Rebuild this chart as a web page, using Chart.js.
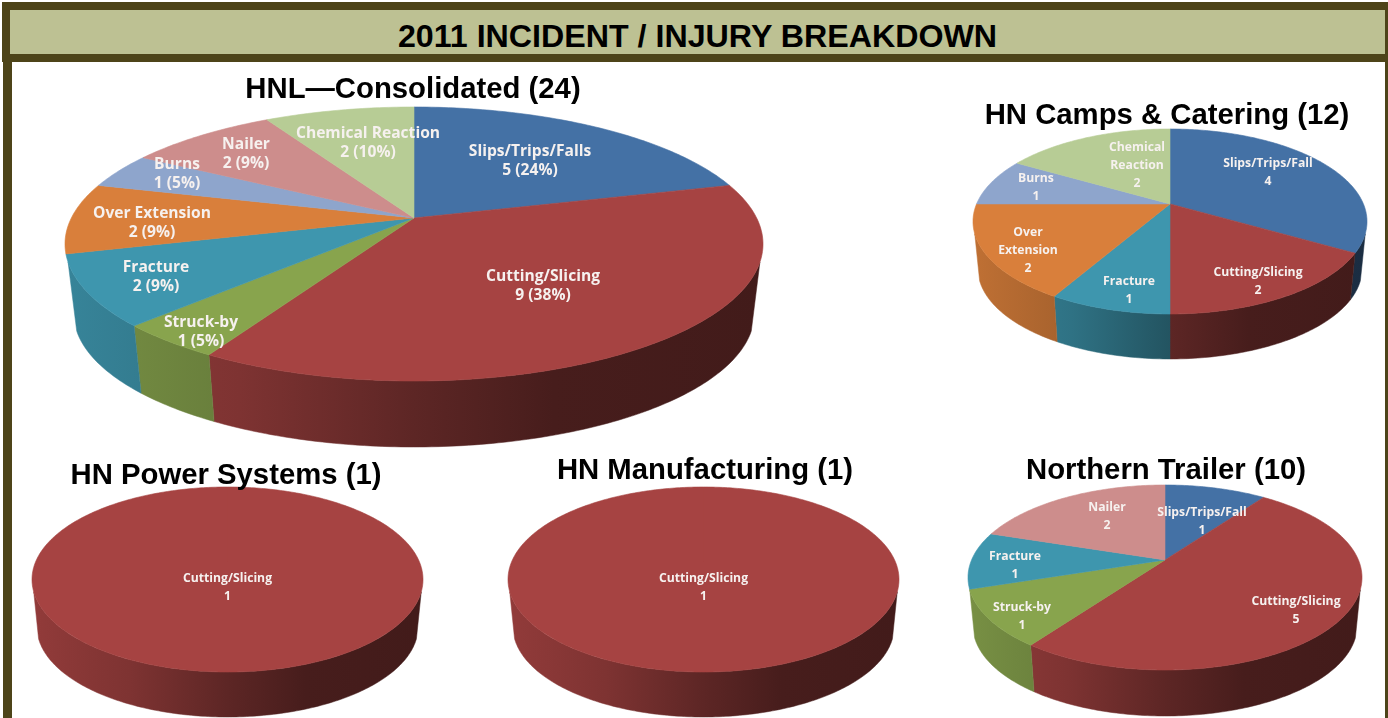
<!DOCTYPE html>
<html>
<head>
<meta charset="utf-8">
<title>2011 Incident / Injury Breakdown</title>
<script src="https://cdn.jsdelivr.net/npm/chart.js@4"></script>
<style>
  html, body { margin: 0; padding: 0; background: #fff; width: 1388px; height: 718px; overflow: hidden; }
  .frame { position: absolute; background: #4d4419; }
  #banner {
    position: absolute; left: 10px; top: 10px; width: 1375px; height: 44px; background: #bdc193;
    font: bold 32.2px "Liberation Sans", Arial, sans-serif; color: #000; text-align: center; line-height: 52px;
  }
  .pie-title {
    position: absolute; z-index: 5; transform: translate(-50%, -50%); white-space: nowrap;
    font: bold 29.3px "Liberation Sans", Arial, sans-serif; color: #000;
  }
  canvas { position: absolute; }
</style>
</head>
<body>
<div class="frame" style="left:2px;top:2px;width:1386px;height:60px"></div>
<div class="frame" style="left:3px;top:62px;width:9px;height:656px"></div>
<div class="frame" style="left:1385px;top:62px;width:3px;height:656px"></div>
<div id="banner">2011 INCIDENT / INJURY BREAKDOWN</div>

<script>
/* Data: slices are counts, labels are as printed */
const hnlCategories = ['Slips/Trips/Falls', 'Cutting/Slicing', 'Struck-by', 'Fracture', 'Over Extension', 'Burns', 'Nailer', 'Chemical Reaction'];
const hnlValues = [5, 9, 1, 2, 2, 1, 2, 2];
const hnlCaptions = ['5 (24%)', '9 (38%)', '1 (5%)', '2 (9%)', '2 (9%)', '1 (5%)', '2 (9%)', '2 (10%)'];

const campsCategories = ['Slips/Trips/Fall', 'Cutting/Slicing', 'Fracture', 'Over Extension', 'Burns', 'Chemical Reaction'];
const campsValues = [4, 2, 1, 2, 1, 2];

const powerCategories = ['Cutting/Slicing'];
const powerValues = [1];

const manufacturingCategories = ['Cutting/Slicing'];
const manufacturingValues = [1];

const trailerCategories = ['Slips/Trips/Fall', 'Cutting/Slicing', 'Struck-by', 'Fracture', 'Nailer'];
const trailerValues = [1, 5, 1, 1, 2];

const categoryColors = {
  'Slips/Trips/Falls': '#4471a5', 'Slips/Trips/Fall': '#4471a5',
  'Cutting/Slicing': '#a64342', 'Struck-by': '#88a44d', 'Fracture': '#3e96ae',
  'Over Extension': '#d97f3b', 'Burns': '#8ea5cc', 'Nailer': '#cd8d8c', 'Chemical Reaction': '#b7cc95'
};

/* Excel style tilt: the centre of the pie sits above the centre of the ellipse */
const TILT = 0.19;
const BOTTOM_SCALE = 0.975;
const WALL_START = 0.32;
const PAD = 3;

function shade(hex, f) {
  const n = parseInt(hex.slice(1), 16);
  const c = [n >> 16, (n >> 8) & 255, n & 255].map(v => Math.round(v * f));
  return `rgb(${c[0]},${c[1]},${c[2]})`;
}

/* Helper: pie geometry from the chart area and the side depth */
function pieGeometry(chart, depth) {
  const area = chart.chartArea;
  const faceHeight = area.height - depth;
  const A = area.width / 2 * Math.sqrt(1 - TILT * TILT);
  const B = faceHeight * (1 - TILT * TILT) / 2;
  const cx = area.left + area.width / 2;
  const cy = area.top + B / (1 + TILT);
  const drop = depth + (1 - BOTTOM_SCALE) * B / (1 - TILT);
  const project = (angle, scale, dy) => {
    const x = Math.cos(angle), y = Math.sin(angle), w = 1 - TILT * y;
    return [cx + scale * A * x / w, cy + scale * B * y / w + dy];
  };
  return { area, cx, cy, drop, project };
}

function tracePoints(ctx, points, first) {
  points.forEach((p, i) => (i === 0 && first ? ctx.moveTo(p[0], p[1]) : ctx.lineTo(p[0], p[1])));
}

function arcPoints(geo, from, to, scale, dy) {
  const steps = Math.max(2, Math.ceil(Math.abs(to - from) / 0.015));
  const pts = [];
  for (let i = 0; i <= steps; i++) pts.push(geo.project(from + (to - from) * i / steps, scale, dy));
  return pts;
}

/* Plugin: replaces the flat arcs, angles still come from the arc elements */
const tiltedPie = {
  id: 'tiltedPie',
  beforeDatasetsDraw(chart, args, opts) {
    const ctx = chart.ctx;
    const geo = pieGeometry(chart, opts.depth);
    const arcs = chart.getDatasetMeta(0).data;
    const frontFrom = WALL_START, frontTo = Math.PI - WALL_START;

    // side wall
    arcs.forEach(arc => {
      const from = Math.max(arc.startAngle, frontFrom);
      const to = Math.min(arc.endAngle, frontTo);
      if (to <= from) return;
      const base = arc.options.backgroundColor;
      const grad = ctx.createLinearGradient(geo.area.left, 0, geo.area.right, 0);
      grad.addColorStop(0, shade(base, 0.88));
      grad.addColorStop(0.25, shade(base, 0.76));
      grad.addColorStop(0.5, shade(base, 0.56));
      grad.addColorStop(0.7, shade(base, 0.43));
      grad.addColorStop(1, shade(base, 0.4));
      ctx.beginPath();
      tracePoints(ctx, arcPoints(geo, from, to, 1, 0), true);
      tracePoints(ctx, arcPoints(geo, to, from, BOTTOM_SCALE, geo.drop), false);
      ctx.closePath();
      ctx.fillStyle = grad;
      ctx.strokeStyle = grad;
      ctx.lineWidth = 0.5;
      ctx.fill();
      ctx.stroke();
    });

    // top face
    arcs.forEach(arc => {
      ctx.beginPath();
      ctx.moveTo(geo.cx, geo.cy);
      tracePoints(ctx, arcPoints(geo, arc.startAngle, arc.endAngle, 1, 0), false);
      ctx.closePath();
      ctx.fillStyle = arc.options.backgroundColor;
      ctx.strokeStyle = arc.options.backgroundColor;
      ctx.lineWidth = 0.6;
      ctx.fill();
      ctx.stroke();
    });

    // slice labels, spots are offsets from the pie centre
    ctx.font = `bold ${opts.fontSize}px "Open Sans", Lato, sans-serif`;
    ctx.fillStyle = '#f6f1ef';
    ctx.textAlign = 'center';
    ctx.textBaseline = 'middle';
    opts.labels.forEach((lines, i) => {
      const spot = opts.spots[i];
      const top = geo.cy + spot[1] + 1 - (lines.length - 1) * opts.lineHeight / 2;
      lines.forEach((line, j) => ctx.fillText(line, geo.cx + spot[0], top + j * opts.lineHeight));
    });
    return false;
  }
};

/* Helper: create one tilted pie, box is the outline of the drawn pie */
function createTiltedPie(box, categories, values, labels, spots, depth, fontSize, lineHeight) {
  const canvas = document.createElement('canvas');
  canvas.style.left = (box.left - PAD) + 'px';
  canvas.style.top = (box.top - PAD) + 'px';
  canvas.width = box.width + PAD * 2;
  canvas.height = box.height + PAD * 2;
  canvas.style.width = canvas.width + 'px';
  canvas.style.height = canvas.height + 'px';
  document.body.appendChild(canvas);
  return new Chart(canvas, {
    type: 'pie',
    data: {
      labels: categories,
      datasets: [{
        data: values,
        backgroundColor: categories.map(c => categoryColors[c]),
        borderWidth: 0
      }]
    },
    options: {
      responsive: false,
      animation: false,
      layout: { padding: PAD },
      plugins: {
        legend: { display: false },
        tooltip: { enabled: false },
        tiltedPie: { depth, fontSize, lineHeight, labels, spots }
      }
    },
    plugins: [tiltedPie]
  });
}

function addTitle(text, x, y) {
  const el = document.createElement('div');
  el.className = 'pie-title';
  el.textContent = text;
  el.style.left = x + 'px';
  el.style.top = y + 'px';
  document.body.appendChild(el);
}

createTiltedPie({ left: 65, top: 107, width: 698, height: 340 }, hnlCategories, hnlValues,
  hnlCategories.map((c, i) => [c, hnlCaptions[i]]),
  [[116, -58], [129, 67], [-213, 113], [-258, 58], [-262, 4], [-237, -45], [-168, -65], [-46, -76]],
  66, 15.6, 19);

createTiltedPie({ left: 973, top: 129, width: 394, height: 230 }, campsCategories, campsValues,
  [['Slips/Trips/Fall', '4'], ['Cutting/Slicing', '2'], ['Fracture', '1'], ['Over', 'Extension', '2'], ['Burns', '1'], ['Chemical', 'Reaction', '2']],
  [[98, -32], [88, 77], [-41, 86], [-142, 46], [-134, -17], [-33, -39]],
  45, 12.2, 18);

createTiltedPie({ left: 32, top: 487, width: 391, height: 230 }, powerCategories, powerValues,
  [['Cutting/Slicing', '1']], [[0, 25]], 45, 12.2, 18);

createTiltedPie({ left: 508, top: 487, width: 391, height: 230 }, manufacturingCategories, manufacturingValues,
  [['Cutting/Slicing', '1']], [[0, 25]], 45, 12.2, 18);

createTiltedPie({ left: 968, top: 485, width: 394, height: 231 }, trailerCategories, trailerValues,
  [['Slips/Trips/Fall', '1'], ['Cutting/Slicing', '5'], ['Struck-by', '1'], ['Fracture', '1'], ['Nailer', '2']],
  [[37, -39], [131, 50], [-143, 56], [-150, 5], [-58, -44]],
  46, 12.2, 18);

addTitle('HNL\u2014Consolidated (24)', 413, 88);
addTitle('HN Camps & Catering (12)', 1167, 114);
addTitle('HN Power Systems (1)', 226, 474);
addTitle('HN Manufacturing (1)', 705, 469);
addTitle('Northern Trailer (10)', 1166, 469);
</script>
</body>
</html>
